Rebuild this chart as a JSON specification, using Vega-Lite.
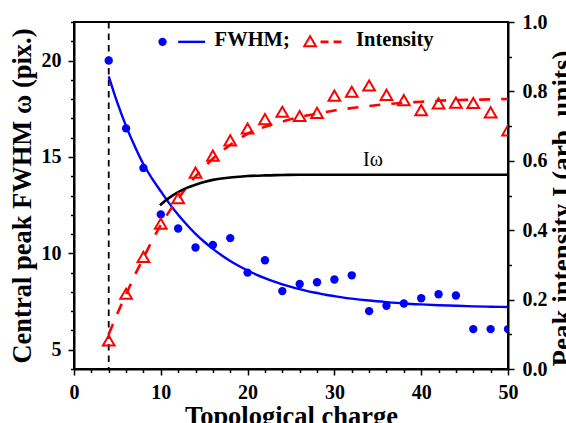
{
  "$schema": "https://vega.github.io/schema/vega-lite/v6.json",
  "width": 434,
  "height": 347,
  "autosize": {"type": "none"},
  "padding": {"left": 74, "top": 22, "right": 58, "bottom": 54},
  "background": "white",
  "config": {
    "view": {"stroke": "black", "strokeWidth": 2},
    "font": "Liberation Serif",
    "axis": {
      "domainColor": "black", "domainWidth": 2, "tickColor": "black", "tickWidth": 1.5,
      "labelFont": "Liberation Serif", "labelFontSize": 20, "labelFontWeight": "bold", "labelColor": "black",
      "titleFont": "Liberation Serif", "titleFontSize": 26.5, "titleFontWeight": "bold", "titleColor": "black",
      "grid": false, "labelPadding": 7, "labelOverlap": false, "labelFlush": false
    }
  },
  "datasets": {
    "vline": [{"x": 4}],
    "fwhm": [
      {"x": 4, "y": 20.0}, {"x": 6, "y": 16.48}, {"x": 8, "y": 14.43}, {"x": 10, "y": 12.02},
      {"x": 12, "y": 11.29}, {"x": 14, "y": 10.3}, {"x": 16, "y": 10.43}, {"x": 18, "y": 10.79},
      {"x": 20, "y": 9.0}, {"x": 22, "y": 9.64}, {"x": 24, "y": 8.04}, {"x": 26, "y": 8.41},
      {"x": 28, "y": 8.5}, {"x": 30, "y": 8.64}, {"x": 32, "y": 8.86}, {"x": 34, "y": 7.0},
      {"x": 36, "y": 7.28}, {"x": 38, "y": 7.4}, {"x": 40, "y": 7.67}, {"x": 42, "y": 7.88},
      {"x": 44, "y": 7.81}, {"x": 46, "y": 6.07}, {"x": 48, "y": 6.07}, {"x": 50, "y": 6.07}
    ],
    "fwhmfit": [
      {"x": 4, "y": 19.18}, {"x": 5, "y": 17.8}, {"x": 6, "y": 16.6}, {"x": 7, "y": 15.55},
      {"x": 8, "y": 14.62}, {"x": 9, "y": 13.88}, {"x": 10, "y": 13.22}, {"x": 11, "y": 12.58},
      {"x": 12, "y": 12.0}, {"x": 13, "y": 11.48}, {"x": 14, "y": 11.01}, {"x": 15, "y": 10.6},
      {"x": 16, "y": 10.23}, {"x": 17, "y": 9.9}, {"x": 18, "y": 9.6}, {"x": 19, "y": 9.34},
      {"x": 20, "y": 9.11}, {"x": 21, "y": 8.9}, {"x": 22, "y": 8.71}, {"x": 23, "y": 8.54},
      {"x": 24, "y": 8.39}, {"x": 25, "y": 8.26}, {"x": 26, "y": 8.14}, {"x": 27, "y": 8.03},
      {"x": 28, "y": 7.94}, {"x": 29, "y": 7.85}, {"x": 30, "y": 7.78}, {"x": 32, "y": 7.65},
      {"x": 34, "y": 7.55}, {"x": 36, "y": 7.47}, {"x": 38, "y": 7.4}, {"x": 40, "y": 7.35},
      {"x": 42, "y": 7.31}, {"x": 44, "y": 7.28}, {"x": 46, "y": 7.25}, {"x": 48, "y": 7.23},
      {"x": 50, "y": 7.22}
    ],
    "intensity": [
      {"x": 4, "y": 0.082}, {"x": 6, "y": 0.217}, {"x": 8, "y": 0.323}, {"x": 10, "y": 0.419},
      {"x": 12, "y": 0.4925}, {"x": 14, "y": 0.566}, {"x": 16, "y": 0.615}, {"x": 18, "y": 0.659},
      {"x": 20, "y": 0.693}, {"x": 22, "y": 0.72}, {"x": 24, "y": 0.7415}, {"x": 26, "y": 0.729},
      {"x": 28, "y": 0.738}, {"x": 30, "y": 0.788}, {"x": 32, "y": 0.799}, {"x": 34, "y": 0.817},
      {"x": 36, "y": 0.79}, {"x": 38, "y": 0.775}, {"x": 40, "y": 0.746}, {"x": 42, "y": 0.7655},
      {"x": 44, "y": 0.7675}, {"x": 46, "y": 0.7665}, {"x": 48, "y": 0.7395}, {"x": 50, "y": 0.6875}
    ],
    "intfit": [
      {"x": 4, "y": 0.1}, {"x": 5, "y": 0.16}, {"x": 6, "y": 0.215}, {"x": 7, "y": 0.27},
      {"x": 8, "y": 0.32}, {"x": 9, "y": 0.37}, {"x": 10, "y": 0.415}, {"x": 11, "y": 0.455},
      {"x": 12, "y": 0.49}, {"x": 13, "y": 0.525}, {"x": 14, "y": 0.555}, {"x": 15, "y": 0.582},
      {"x": 16, "y": 0.606}, {"x": 17, "y": 0.627}, {"x": 18, "y": 0.646}, {"x": 19, "y": 0.663},
      {"x": 20, "y": 0.678}, {"x": 22, "y": 0.698}, {"x": 24, "y": 0.713}, {"x": 26, "y": 0.726},
      {"x": 28, "y": 0.736}, {"x": 30, "y": 0.745}, {"x": 32, "y": 0.752}, {"x": 34, "y": 0.758},
      {"x": 36, "y": 0.763}, {"x": 38, "y": 0.767}, {"x": 40, "y": 0.77}, {"x": 42, "y": 0.773},
      {"x": 44, "y": 0.775}, {"x": 46, "y": 0.776}, {"x": 48, "y": 0.777}, {"x": 50, "y": 0.778}
    ],
    "iw": [
      {"x": 9.9, "y": 0.472}, {"x": 11, "y": 0.494}, {"x": 12, "y": 0.51}, {"x": 13, "y": 0.522},
      {"x": 14, "y": 0.531}, {"x": 15, "y": 0.539}, {"x": 16, "y": 0.545}, {"x": 17, "y": 0.549},
      {"x": 18, "y": 0.552}, {"x": 19, "y": 0.554}, {"x": 20, "y": 0.556}, {"x": 22, "y": 0.558},
      {"x": 24, "y": 0.559}, {"x": 26, "y": 0.56}, {"x": 30, "y": 0.56}, {"x": 50, "y": 0.56}
    ],
    "iwlabel": [{"x": 34.45, "y": 0.584, "t": "Iω"}],
    "legcircle": [{"x": 10.2, "y": 20.97}],
    "legline": [{"x": 12.0, "x2": 15.1, "y": 20.97}],
    "legtri": [{"x": 27.2, "y": 21.0}],
    "legdash": [{"x": 28.4, "x2": 31.3, "y": 20.97}],
    "legtext": [{"x": 16.2, "y": 20.74, "t": "FWHM;"}, {"x": 32.5, "y": 20.74, "t": "Intensity"}]
  },
  "layer": [
    {
      "resolve": {"axis": {"x": "independent", "y": "independent"}},
      "layer": [
        {
          "data": {"name": "vline"},
          "mark": {"type": "rule", "color": "black", "strokeWidth": 1.8, "strokeDash": [6.5, 5]},
          "encoding": {
            "x": {
              "field": "x", "type": "quantitative",
              "scale": {"domain": [0, 50], "nice": false},
              "axis": {
                "orient": "bottom",
                "title": "Topological charge",
                "values": [0, 10, 20, 30, 40, 50],
                "format": "d",
                "tickSize": 6,
                "titlePadding": 1
              }
            }
          }
        },
        {
          "data": {"name": "fwhmfit"},
          "mark": {"type": "line", "color": "#0000ff", "strokeWidth": 2.4, "interpolate": "monotone"},
          "encoding": {
            "x": {
              "field": "x", "type": "quantitative", "scale": {"domain": [0, 50], "nice": false},
              "axis": {"orient": "bottom", "title": null, "labels": false, "domain": false, "tickSize": 3.5,
                       "values": [2, 4, 6, 8, 12, 14, 16, 18, 22, 24, 26, 28, 32, 34, 36, 38, 42, 44, 46, 48]}
            },
            "y": {
              "field": "y", "type": "quantitative", "scale": {"domain": [4, 22], "nice": false, "zero": false},
              "axis": {"orient": "left", "title": null, "labels": false, "domain": false, "tickSize": 3.5,
                       "values": [4, 6, 7, 8, 9, 11, 12, 13, 14, 16, 17, 18, 19, 21, 22]}
            }
          }
        },
        {
          "data": {"name": "fwhm"},
          "mark": {"type": "point", "shape": "circle", "filled": true, "color": "#0000ff", "size": 70, "opacity": 1, "clip": true},
          "encoding": {
            "x": {"field": "x", "type": "quantitative", "scale": {"domain": [0, 50], "nice": false}, "axis": null},
            "y": {
              "field": "y", "type": "quantitative",
              "scale": {"domain": [4, 22], "nice": false, "zero": false},
              "axis": {
                "orient": "left",
                "title": "Central peak FWHM ω (pix.)",
                "values": [5, 10, 15, 20],
                "format": "d",
                "tickSize": 6,
                "titlePadding": 5
              }
            }
          }
        },
        {
          "data": {"name": "legcircle"},
          "mark": {"type": "point", "shape": "circle", "filled": true, "color": "#0000ff", "size": 70, "opacity": 1},
          "encoding": {
            "x": {"field": "x", "type": "quantitative", "scale": {"domain": [0, 50], "nice": false}, "axis": null},
            "y": {"field": "y", "type": "quantitative", "scale": {"domain": [4, 22], "nice": false, "zero": false}, "axis": null}
          }
        },
        {
          "data": {"name": "legline"},
          "mark": {"type": "rule", "color": "#0000ff", "strokeWidth": 2.4},
          "encoding": {
            "x": {"field": "x", "type": "quantitative", "scale": {"domain": [0, 50], "nice": false}, "axis": null},
            "x2": {"field": "x2"},
            "y": {"field": "y", "type": "quantitative", "scale": {"domain": [4, 22], "nice": false, "zero": false}, "axis": null}
          }
        },
        {
          "data": {"name": "legtri"},
          "mark": {"type": "point", "shape": "triangle-up", "filled": false, "color": "#ff0000", "size": 137, "strokeWidth": 2, "opacity": 1},
          "encoding": {
            "x": {"field": "x", "type": "quantitative", "scale": {"domain": [0, 50], "nice": false}, "axis": null},
            "y": {"field": "y", "type": "quantitative", "scale": {"domain": [4, 22], "nice": false, "zero": false}, "axis": null}
          }
        },
        {
          "data": {"name": "legdash"},
          "mark": {"type": "rule", "color": "#ff0000", "strokeWidth": 2.6, "strokeDash": [8, 5]},
          "encoding": {
            "x": {"field": "x", "type": "quantitative", "scale": {"domain": [0, 50], "nice": false}, "axis": null},
            "x2": {"field": "x2"},
            "y": {"field": "y", "type": "quantitative", "scale": {"domain": [4, 22], "nice": false, "zero": false}, "axis": null}
          }
        },
        {
          "data": {"name": "legtext"},
          "mark": {"type": "text", "align": "left", "baseline": "alphabetic", "font": "Liberation Serif", "fontSize": 20.5, "fontWeight": "bold", "color": "black"},
          "encoding": {
            "x": {"field": "x", "type": "quantitative", "scale": {"domain": [0, 50], "nice": false}, "axis": null},
            "y": {"field": "y", "type": "quantitative", "scale": {"domain": [4, 22], "nice": false, "zero": false}, "axis": null},
            "text": {"field": "t"}
          }
        }
      ]
    },
    {
      "resolve": {"axis": {"y": "independent"}},
      "layer": [
        {
          "data": {"name": "intfit"},
          "mark": {"type": "line", "color": "#ff0000", "strokeWidth": 2.6, "strokeDash": [11, 11], "interpolate": "monotone"},
          "encoding": {
            "x": {"field": "x", "type": "quantitative", "scale": {"domain": [0, 50], "nice": false}, "axis": null},
            "y": {"field": "y", "type": "quantitative", "scale": {"domain": [0, 1], "nice": false}, "axis": null}
          }
        },
        {
          "data": {"name": "iw"},
          "mark": {"type": "line", "color": "black", "strokeWidth": 2.6, "interpolate": "monotone"},
          "encoding": {
            "x": {"field": "x", "type": "quantitative", "scale": {"domain": [0, 50], "nice": false}, "axis": null},
            "y": {
              "field": "y", "type": "quantitative", "scale": {"domain": [0, 1], "nice": false},
              "axis": {"orient": "right", "title": null, "labels": false, "domain": false, "tickSize": 3.5,
                       "values": [0.1, 0.3, 0.5, 0.7, 0.9]}
            }
          }
        },
        {
          "data": {"name": "intensity"},
          "mark": {"type": "point", "shape": "triangle-up", "filled": false, "color": "#ff0000", "size": 137, "strokeWidth": 2, "opacity": 1, "clip": true},
          "encoding": {
            "x": {"field": "x", "type": "quantitative", "scale": {"domain": [0, 50], "nice": false}, "axis": null},
            "y": {
              "field": "y", "type": "quantitative",
              "scale": {"domain": [0, 1], "nice": false},
              "axis": {
                "orient": "right",
                "title": "Peak intensity I (arb. units)",
                "titleFontSize": 27,
                "titleAngle": -90,
                "titleBaseline": "top",
                "titleY": 186,
                "values": [0, 0.2, 0.4, 0.6, 0.8, 1.0],
                "format": ".1f",
                "tickSize": 6,
                "labelPadding": 8,
                "titlePadding": 2
              }
            }
          }
        },
        {
          "data": {"name": "iwlabel"},
          "mark": {"type": "text", "align": "center", "baseline": "alphabetic", "font": "Liberation Serif", "fontSize": 20, "fontWeight": "normal", "color": "black"},
          "encoding": {
            "x": {"field": "x", "type": "quantitative", "scale": {"domain": [0, 50], "nice": false}, "axis": null},
            "y": {"field": "y", "type": "quantitative", "scale": {"domain": [0, 1], "nice": false}, "axis": null},
            "text": {"field": "t"}
          }
        }
      ]
    }
  ],
  "resolve": {"scale": {"y": "independent"}}
}
